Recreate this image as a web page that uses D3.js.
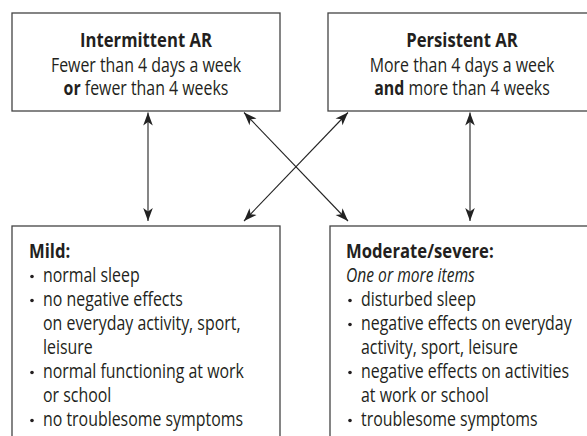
<!DOCTYPE html>
<html lang="en">
<head>
    <meta charset="UTF-8">
    <title>AR classification</title>
    <script src="https://d3js.org/d3.v7.min.js"></script>
    <style>
        body { margin: 0; background: #fff; }
        svg { display: block; }
        text { font-family: "Open Sans", "Noto Sans", sans-serif; font-size: 20px; fill: #231f20; }
        .box { fill: #fff; stroke: #444; stroke-width: 1.3px; }
        .arrow { stroke: #222; stroke-width: 1.1px; }
    </style>
</head>
<body>
    <svg></svg>
    <script>
        const width = 587, height = 436;
        const svg = d3.select("svg").attr("width", width).attr("height", height);

        // top row: duration
        const durationTitles = ["Intermittent AR", "Persistent AR"];
        const durationLines = [
            [["", "Fewer than 4 days a week"], ["or", " fewer than 4 weeks"]],
            [["", "More than 4 days a week"], ["and", " more than 4 weeks"]]
        ];

        // bottom row: severity
        const severityTitles = ["Mild:", "Moderate/severe:"];
        const severityNotes = [null, "One or more items"];
        const mildItems = [
            ["normal sleep"],
            ["no negative effects", "on everyday activity, sport,", "leisure"],
            ["normal functioning at work", "or school"],
            ["no troublesome symptoms"]
        ];
        const severeItems = [
            ["disturbed sleep"],
            ["negative effects on everyday", "activity, sport, leisure"],
            ["negative effects on activities", "at work or school"],
            ["troublesome symptoms"]
        ];

        // which top box links to which bottom box
        const links = [[0, 0], [0, 1], [1, 0], [1, 1]];

        const topBoxes = [
            { x: 12, y: 13, w: 268, h: 98 },
            { x: 328, y: 13, w: 268, h: 98 }
        ];
        const bottomBoxes = [
            { x: 12, y: 226, w: 268, h: 240 },
            { x: 330, y: 226, w: 268, h: 240 }
        ];

        // the original uses a condensed face; squeeze a normal one to the same widths
        function measure(str, style) {
            const t = svg.append("text").style("font-weight", style.weight || null)
                .style("font-style", style.italic ? "italic" : null).text(str);
            const w = t.node().getComputedTextLength();
            t.remove();
            return w;
        }
        const kReg = 201 / measure("normal functioning at work", {});
        const kBold = 132 / measure("Intermittent AR", { weight: "bold" });
        const kItal = 129 / measure("One or more items", { italic: true });

        function place(t, x, y, k) {
            return t.attr("transform", `translate(${x},${y}) scale(${k},1)`);
        }

        svg.append("defs").append("marker")
            .attr("id", "head")
            .attr("viewBox", "-14 -6 16 12")
            .attr("refX", 0).attr("refY", 0)
            .attr("markerWidth", 16).attr("markerHeight", 12)
            .attr("markerUnits", "userSpaceOnUse")
            .attr("orient", "auto-start-reverse")
            .append("path")
            .attr("d", "M0,0 L-13,-4.8 L-9.5,0 L-13,4.8 Z")
            .style("fill", "#222");

        // arrows
        const lineLayer = svg.append("g");
        const vx = [148, 470];
        const dx = [244, 348];
        links.forEach(([t, b]) => {
            const y1 = 112.5, y2 = 221;
            let x1, x2;
            if (t === b) { x1 = x2 = vx[t]; }
            else { x1 = dx[t]; x2 = dx[b]; }
            lineLayer.append("line")
                .attr("class", "arrow")
                .attr("x1", x1).attr("y1", y1)
                .attr("x2", x2).attr("y2", y2)
                .attr("marker-start", "url(#head)")
                .attr("marker-end", "url(#head)");
        });

        // top boxes
        const topRow = svg.append("g").selectAll("g")
            .data(topBoxes)
            .join("g");

        topRow.append("rect").attr("class", "box")
            .attr("x", d => d.x).attr("y", d => d.y)
            .attr("width", d => d.w).attr("height", d => d.h);

        topRow.each(function (d, i) {
            const g = d3.select(this);
            const cx = d.x + d.w / 2;
            place(g.append("text"), cx, 47, kBold)
                .attr("text-anchor", "middle")
                .style("font-weight", "bold")
                .text(durationTitles[i]);
            durationLines[i].forEach((ln, j) => {
                const t = place(g.append("text"), cx, 71.5 + j * 23, kReg)
                    .attr("text-anchor", "middle");
                if (ln[0]) t.append("tspan").style("font-weight", "bold").text(ln[0]);
                t.append("tspan").text(ln[1]);
            });
        });

        // bottom boxes
        const itemSets = [mildItems, severeItems];
        const bottomRow = svg.append("g").selectAll("g")
            .data(bottomBoxes)
            .join("g");

        bottomRow.append("rect").attr("class", "box")
            .attr("x", d => d.x).attr("y", d => d.y)
            .attr("width", d => d.w).attr("height", d => d.h);

        const lineH = 24;
        bottomRow.each(function (d, i) {
            const g = d3.select(this);
            const left = d.x + 17 - i;
            place(g.append("text"), left, 258, kBold)
                .style("font-weight", "bold")
                .text(severityTitles[i]);
            let y = 258 + lineH;
            if (severityNotes[i]) {
                place(g.append("text"), left, y, kItal)
                    .style("font-style", "italic")
                    .text(severityNotes[i]);
                y += lineH;
            }
            const bx = left + (i === 0 ? 3 : 4);
            itemSets[i].forEach(item => {
                g.append("circle")
                    .attr("cx", bx).attr("cy", y - 5.5).attr("r", 1.8)
                    .style("fill", "#231f20");
                item.forEach(s => {
                    place(g.append("text"), bx + 11, y, kReg).text(s);
                    y += lineH;
                });
            });
        });
    </script>
</body>
</html>
